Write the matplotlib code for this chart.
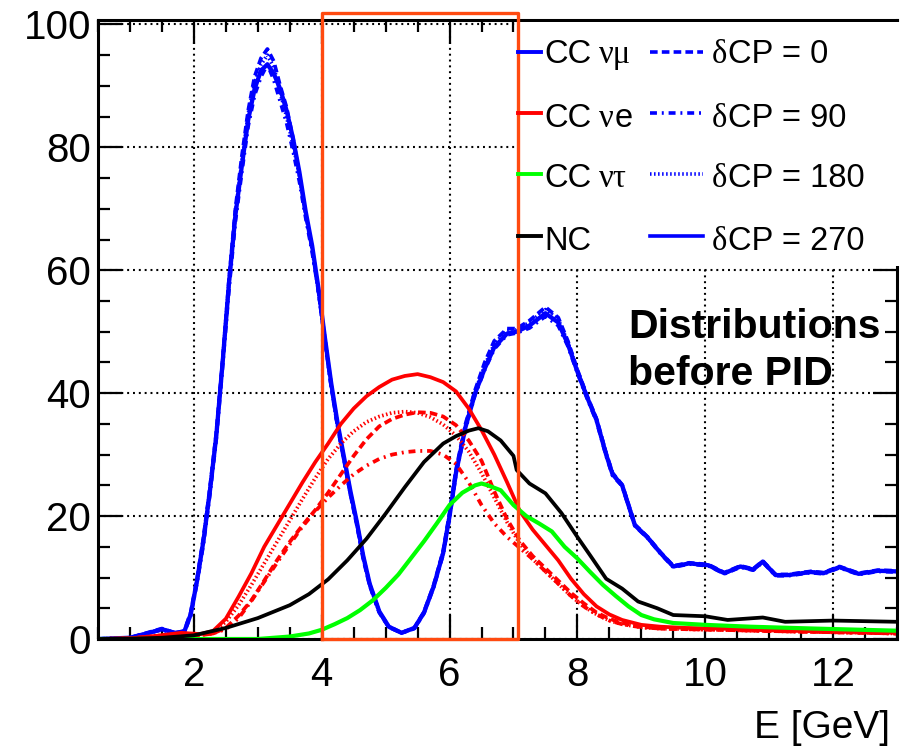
import matplotlib.pyplot as plt
from matplotlib.lines import Line2D
from matplotlib.patches import Rectangle
from matplotlib.ticker import MultipleLocator

plt.rcParams['font.family'] = ['Liberation Sans', 'DejaVu Sans']
plt.rcParams['lines.scale_dashes'] = False

# CC numu (blue), four dCP values
numu_E = [0.5, 1.0, 1.3, 1.5, 1.7, 1.85, 1.95,
          2.05, 2.15, 2.25, 2.35, 2.45, 2.55, 2.65, 2.75, 2.85, 2.95,
          3.05, 3.15, 3.25, 3.35, 3.45, 3.55, 3.65, 3.75, 3.85, 3.95,
          4.05, 4.15, 4.25, 4.35, 4.45, 4.55, 4.65, 4.75,
          4.9, 5.05, 5.25, 5.45, 5.6, 5.75, 5.9, 6.0, 6.1, 6.25, 6.4, 6.55, 6.7, 6.9, 7.05,
          7.25, 7.5, 7.7, 7.85, 8.0, 8.15, 8.3, 8.45, 8.55, 8.7, 8.9, 9.1, 9.3, 9.5, 9.75,
          10.05, 10.3, 10.55, 10.75, 10.9, 11.1, 11.3, 11.65, 11.85, 12.1, 12.4, 12.7, 13.0]
numu_270 = [0.0, 0.2, 1.0, 1.6, 1.0, 1.2, 4.0,
            9.5, 16.0, 24.0, 33.0, 45.0, 58.0, 69.0, 77.0, 84.5, 89.5,
            92.5, 93.5, 92.0, 89.5, 86.0, 81.5, 76.0, 69.5, 64.0, 57.0,
            49.0, 41.5, 35.0, 29.5, 24.0, 19.0, 13.5, 9.0,
            4.5, 2.0, 1.0, 1.8, 4.3, 8.5, 14.0, 20.0, 27.0, 34.5, 40.0, 44.0, 47.5, 49.7, 50.0,
            51.0, 53.0, 51.5, 48.0, 43.5, 39.4, 35.6, 30.0, 26.8, 25.0, 18.5, 16.5, 14.0, 11.8, 12.3,
            12.0, 10.7, 11.8, 11.3, 12.6, 10.4, 10.4, 10.9, 10.7, 11.7, 10.6, 11.1, 11.0]
numu_0 = [0.0, 0.2, 1.1, 1.7, 1.0, 1.3, 4.3,
          9.8, 16.5, 24.5, 33.5, 45.5, 58.5, 70.0, 78.5, 86.0, 91.5,
          94.5, 96.0, 94.0, 90.0, 86.5, 81.5, 75.5, 69.0, 63.5, 56.5,
          48.5, 41.0, 34.5, 29.0, 23.5, 18.5, 13.0, 8.7,
          4.3, 1.9, 1.0, 1.8, 4.4, 8.7, 14.3, 20.5, 27.5, 35.0, 40.5, 45.0, 48.5, 50.5, 50.5,
          51.8, 54.0, 52.3, 48.5, 43.8, 39.6, 35.8, 30.2, 27.0, 25.1, 18.6, 16.6, 14.1, 11.9, 12.4,
          12.1, 10.8, 11.9, 11.4, 12.7, 10.5, 10.5, 11.0, 10.8, 11.8, 10.7, 11.2, 11.1]
numu_90 = [0.0, 0.2, 1.0, 1.5, 0.9, 1.1, 3.8,
           9.2, 15.5, 23.5, 32.5, 44.5, 57.0, 68.0, 76.0, 83.5, 88.5,
           91.5, 93.5, 91.0, 87.5, 84.0, 79.5, 74.5, 68.5, 63.0, 56.5,
           48.5, 41.0, 34.5, 29.0, 23.5, 18.8, 13.3, 8.9,
           4.4, 2.0, 1.0, 1.7, 4.2, 8.4, 13.8, 19.8, 26.8, 34.2, 39.8, 43.8, 47.2, 49.5, 49.8,
           50.6, 52.5, 51.0, 47.7, 43.3, 39.2, 35.4, 29.8, 26.6, 24.9, 18.4, 16.4, 13.9, 11.7, 12.2,
           11.9, 10.6, 11.7, 11.2, 12.5, 10.3, 10.3, 10.8, 10.6, 11.6, 10.5, 11.0, 10.9]
numu_180 = [0.0, 0.2, 1.0, 1.6, 1.0, 1.2, 4.1,
            9.6, 16.2, 24.2, 33.2, 45.2, 58.2, 69.5, 77.5, 85.5, 90.5,
            93.5, 95.0, 93.0, 89.0, 85.0, 80.5, 75.5, 69.0, 63.5, 56.5,
            48.8, 41.2, 34.8, 29.2, 23.8, 18.8, 13.3, 8.9,
            4.4, 2.0, 1.0, 1.8, 4.3, 8.6, 14.1, 20.2, 27.2, 34.8, 40.3, 44.5, 48.0, 50.2, 50.3,
            51.5, 53.6, 52.0, 48.3, 43.7, 39.5, 35.7, 30.1, 26.9, 25.0, 18.5, 16.5, 14.0, 11.8, 12.3,
            12.0, 10.7, 11.8, 11.3, 12.6, 10.4, 10.4, 10.9, 10.7, 11.7, 10.6, 11.1, 11.0]

# CC nue (red), four dCP values
nue_E = [0.5, 1.0, 1.4, 1.8, 2.1,
         2.3, 2.5, 2.7, 2.9, 3.1, 3.3, 3.5, 3.7, 3.9, 4.1,
         4.3, 4.5, 4.7, 4.9, 5.1, 5.3, 5.5, 5.7, 5.9, 6.1,
         6.3, 6.5, 6.7, 6.9, 7.1, 7.3, 7.5, 7.7, 7.9, 8.1,
         8.3, 8.5, 8.7, 9.0, 9.3, 9.7, 10.2, 11.0, 12.0, 13.0]
nue_270 = [0.0, 0.1, 0.5, 1.0, 0.8,
           1.3, 3.3, 6.9, 10.7, 15.0, 18.5, 22.0, 25.5, 28.8, 31.8,
           35.0, 37.5, 39.5, 41.0, 42.2, 42.8, 43.1, 42.6, 41.8, 40.3,
           37.5, 34.0, 30.0, 25.5, 20.8, 17.8, 15.3, 12.8, 9.8, 7.3,
           5.3, 4.0, 3.1, 2.3, 2.0, 1.8, 1.7, 1.4, 1.2, 1.0]
nue_0 = [0.0, 0.1, 0.4, 0.8, 0.6,
         0.9, 1.8, 3.8, 6.3, 9.5, 12.8, 15.8, 18.5, 21.0, 23.8,
         26.8, 29.8, 32.5, 34.6, 35.8, 36.5, 36.9, 36.8, 36.2, 34.8,
         32.3, 29.0, 24.0, 19.5, 16.0, 13.5, 11.5, 9.5, 7.5, 5.8,
         4.3, 3.3, 2.6, 2.0, 1.7, 1.6, 1.5, 1.3, 1.1, 0.9]
nue_90 = [0.0, 0.1, 0.4, 0.8, 0.6,
          0.9, 1.6, 3.4, 6.2, 9.3, 12.4, 15.4, 18.3, 20.8, 23.0,
          25.0, 26.8, 28.2, 29.3, 30.0, 30.4, 30.6, 30.6, 30.0, 28.5,
          25.5, 21.8, 18.8, 16.6, 14.8, 13.0, 11.0, 9.0, 7.0, 5.3,
          4.0, 3.0, 2.4, 1.9, 1.7, 1.6, 1.5, 1.3, 1.1, 0.9]
nue_180 = [0.0, 0.1, 0.5, 0.9, 0.7,
           1.2, 2.8, 5.5, 8.8, 12.3, 15.8, 19.3, 22.8, 26.2, 29.3,
           31.8, 33.8, 35.3, 36.2, 36.8, 37.0, 36.8, 36.1, 34.9, 33.1,
           30.5, 27.0, 23.0, 19.0, 15.5, 13.0, 11.0, 9.0, 7.0, 5.3,
           4.0, 3.0, 2.4, 1.9, 1.7, 1.6, 1.5, 1.3, 1.1, 0.9]

# CC nutau (green)
nutau_E = [0.5, 1.5, 2.5, 3.0, 3.5, 3.8,
           4.0, 4.2, 4.4, 4.6, 4.8, 5.0, 5.2, 5.4, 5.6, 5.8, 6.0, 6.2, 6.4, 6.5, 6.6,
           6.8, 7.0, 7.2, 7.4, 7.6, 7.8, 8.0, 8.2, 8.4, 8.6, 8.8, 9.0, 9.2,
           9.5, 10.0, 10.7, 11.7, 13.0]
nutau = [0.0, 0.0, 0.0, 0.0, 0.4, 0.9,
         1.5, 2.4, 3.4, 4.7, 6.3, 8.3, 10.5, 13.2, 15.9, 18.8, 21.8, 23.8, 25.0, 25.3, 25.0,
         24.2, 21.8, 20.0, 18.8, 17.5, 15.0, 13.1, 10.9, 8.8, 7.0, 5.3, 3.9, 3.2,
         2.6, 2.3, 2.0, 1.7, 1.35]

# NC (black)
nc_E = [0.5, 1.0, 1.5, 2.0, 2.5, 3.0, 3.5, 3.8,
        4.1, 4.4, 4.7, 5.0, 5.3, 5.6, 5.9,
        6.1, 6.3, 6.45, 6.6, 6.8, 7.0, 7.05, 7.25, 7.5, 7.75, 8.0, 8.2, 8.45, 8.7, 8.95, 9.25, 9.5,
        10.0, 10.35, 10.9, 11.25, 12.0, 13.0]
nc = [0.0, 0.05, 0.2, 0.6, 1.8, 3.4, 5.5, 7.3,
      9.7, 12.8, 16.3, 20.4, 24.7, 28.8, 31.8,
      33.0, 33.9, 34.3, 33.8, 32.3, 29.8, 27.5, 25.3, 23.7, 20.5, 16.6, 13.6, 9.8, 8.2, 6.1, 5.0, 3.9,
      3.7, 3.1, 3.5, 2.8, 3.0, 2.8]

# selected energy window
window = [4.0, 7.07]

BLUE, RED, GREEN = '#0000ff', '#ff0000', '#00ff00'
DASH = (0, (5.5, 3.0))
DASHDOT = (0, (5.0, 3.5, 1.4, 3.5))
DOT = (0, (1.1, 1.8))

W, H = 911, 750
fig = plt.figure(figsize=(W / 100, H / 100), dpi=100)
ax = fig.add_axes([98 / W, 1 - 639 / H, 799 / W, 619.5 / H])

lw = 2.7
ax.plot(numu_E, numu_0, color=BLUE, lw=lw, ls=DASH)
ax.plot(numu_E, numu_90, color=BLUE, lw=lw, ls=DASHDOT)
ax.plot(numu_E, numu_180, color=BLUE, lw=lw, ls=DOT)
ax.plot(numu_E, numu_270, color=BLUE, lw=lw + 0.4)
ax.plot(nue_E, nue_0, color=RED, lw=lw, ls=DASH)
ax.plot(nue_E, nue_90, color=RED, lw=lw, ls=DASHDOT)
ax.plot(nue_E, nue_180, color=RED, lw=lw, ls=DOT)
ax.plot(nue_E, nue_270, color=RED, lw=lw)
ax.plot(nutau_E, nutau, color=GREEN, lw=lw + 0.3)
ax.plot(nc_E, nc, color='black', lw=lw)

ax.set_xlim(0.5, 13)
ax.set_ylim(0, 100.8)
ax.xaxis.set_major_locator(MultipleLocator(2))
ax.xaxis.set_minor_locator(MultipleLocator(0.5))
ax.yaxis.set_major_locator(MultipleLocator(20))
ax.yaxis.set_minor_locator(MultipleLocator(5))
ax.tick_params(which='both', direction='in', top=True, right=True, width=1.6)
ax.tick_params(which='major', length=17, labelsize=29)
ax.tick_params(which='minor', length=8.5)
ax.tick_params(axis='x', which='major', pad=12)
ax.tick_params(axis='y', which='major', pad=5)
ax.grid(True, which='major', color='black', ls=(0, (1.4, 2.8)), lw=1.5)
for s in ax.spines.values():
    s.set_linewidth(2.2)

# orange window box
ax.plot([window[0], window[0], window[1], window[1], window[0]],
        [0, 101.8, 101.8, 0, 0], color='#ff4a10', lw=2.4,
        clip_on=False, zorder=6)

# legend background
ax.add_patch(Rectangle(((519 - 98) / 799, (639 - 266) / 619.5), 0.48, 0.394,
                       transform=ax.transAxes, facecolor='white',
                       edgecolor='none', clip_on=False, zorder=4))


def fx(px):
    return px / W


def fy(py):
    return 1 - py / H


fs = 23.5
rows = [52, 113, 174, 236]
base = [63.3, 126.7, 186.7, 250]
col1 = [BLUE, RED, GREEN, 'black']
for y, c in zip(rows, col1):
    fig.add_artist(Line2D([fx(518), fx(541)], [fy(y), fy(y)], color=c, lw=2.8, zorder=7))
styles = [DASH, DASHDOT, DOT, '-']
for y, st in zip(rows, styles):
    fig.add_artist(Line2D([fx(650), fx(703)], [fy(y), fy(y)], color=BLUE, lw=2.6, ls=st, zorder=7))

serif = 'Liberation Serif'
fig.text(fx(544), fy(base[0]), 'CC', fontsize=fs, va='baseline')
fig.text(fx(599), fy(base[0]), 'νμ', fontsize=fs, va='baseline', family=serif)
fig.text(fx(544), fy(base[1]), 'CC', fontsize=fs, va='baseline')
fig.text(fx(599), fy(base[1]), 'ν', fontsize=fs, va='baseline', family=serif)
fig.text(fx(615), fy(base[1]), 'e', fontsize=fs, va='baseline')
fig.text(fx(544), fy(base[2]), 'CC', fontsize=fs, va='baseline')
fig.text(fx(599), fy(base[2]), 'ντ', fontsize=fs, va='baseline', family=serif)
fig.text(fx(544), fy(base[3]), 'NC', fontsize=fs, va='baseline')
for b, lab in zip(base, ['0', '90', '180', '270']):
    fig.text(fx(712), fy(b), 'δ', fontsize=fs, va='baseline', family=serif)
    fig.text(fx(728), fy(b), 'CP = ' + lab, fontsize=fs, va='baseline')

fig.text(fx(628), fy(338), 'Distributions', fontsize=29.5, fontweight='bold', va='baseline')
fig.text(fx(628), fy(385), 'before PID', fontsize=29.5, fontweight='bold', va='baseline')

fig.text(fx(890), fy(738), 'E [GeV]', fontsize=28, ha='right', va='baseline')

fig.savefig('out.png', dpi=100)
